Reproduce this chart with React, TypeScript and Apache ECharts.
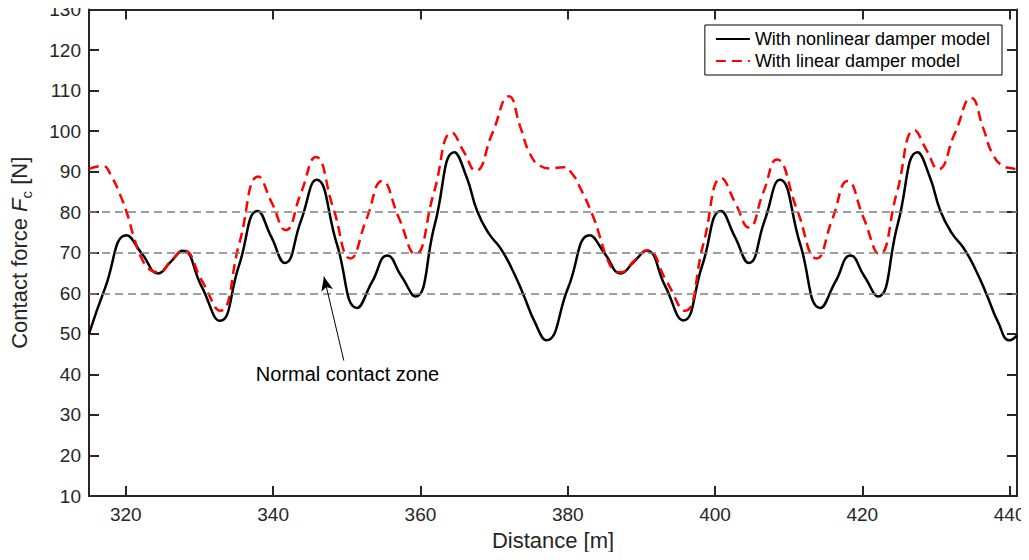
import { useEffect, useRef } from "react";
import * as echarts from "echarts";

// Distance [m] and contact force [N]
const nonlinearDistance = [
  315, 317.2, 320.1, 322.25, 324.4, 326.05, 327.7, 330.25, 332.8, 335.35, 337.9, 339.75, 341.6, 343.75, 345.9,
  348.65, 351.4, 353.45, 355.5, 357.4, 359.3, 361.95, 364.6, 366.3, 367.7, 369.3, 370.8, 372.3, 374.0, 375.5,
  377.1, 380.05, 383.0, 385.1, 387.2, 388.95, 390.7, 393.2, 395.7, 398.25, 400.8, 402.7, 404.6, 406.7, 408.8,
  411.55, 414.3, 416.35, 418.4, 420.25, 422.1, 424.8, 427.5, 429.2, 430.6, 432.2, 433.7, 435.2, 436.9, 438.4,
  440.0, 441,
];
const nonlinearForce = [
  50.0, 61.4, 74.3, 69.6, 64.9, 67.7, 70.5, 61.85, 53.2, 66.75, 80.3, 73.9, 67.5, 77.75, 88.0,
  72.2, 56.4, 62.85, 69.3, 64.25, 59.2, 77.0, 94.8, 88.5, 80.3, 74.7, 71.3, 66.5, 59.6, 53.0,
  48.4, 61.35, 74.3, 69.6, 64.9, 67.7, 70.5, 61.9, 53.3, 66.8, 80.3, 73.9, 67.5, 77.75, 88.0,
  72.2, 56.4, 62.85, 69.3, 64.25, 59.2, 77.0, 94.8, 88.5, 80.3, 74.7, 71.3, 66.5, 59.6, 53.0,
  48.4, 49.6,
];

const linearDistance = [
  315, 316.8, 318.2, 319.2, 320.2, 321.1, 322.2, 323.5, 324.5, 326.1, 327.8, 330.3, 332.8, 335.4, 338.0,
  339.85, 341.7, 343.75, 345.8, 348.15, 350.5, 352.65, 354.8, 357.05, 359.3, 361.8, 364.3, 365.9, 367.5, 369.75,
  372.0, 373.6, 374.9, 376.3, 377.6, 379.4, 380.6, 381.7, 383.5, 384.4, 385.3, 386.4, 387.3, 388.95, 390.8,
  393.35, 395.9, 398.4, 400.9, 402.75, 404.6, 406.5, 408.4, 411.1, 413.8, 415.9, 418.0, 420.15, 422.3, 424.7,
  427.1, 428.7, 430.3, 432.55, 434.8, 436.4, 437.7, 439.1, 440.4, 441,
];
const linearForce = [
  90.7, 91.4, 88.3, 84.4, 79.5, 73.8, 68.4, 65.6, 65.2, 67.9, 70.6, 63.2, 55.7, 72.25, 88.8,
  82.2, 75.6, 84.6, 93.6, 81.1, 68.6, 78.15, 87.7, 78.7, 69.7, 84.65, 99.6, 94.9, 90.2, 99.4,
  108.6, 100.8, 94.3, 91.4, 90.8, 91.1, 89.5, 86.0, 78.7, 73.8, 68.8, 65.6, 65.2, 67.9, 70.6,
  63.2, 55.7, 72.05, 88.4, 82.3, 76.2, 84.6, 93.0, 80.8, 68.6, 78.15, 87.7, 78.7, 69.7, 84.95,
  100.2, 95.4, 90.6, 99.4, 108.2, 100.8, 94.3, 91.4, 90.8, 90.6,
];

const xTickValues = [320, 340, 360, 380, 400, 420, 440];
const referenceLevels = [60, 70, 80];
const seriesNames = ["With nonlinear damper model", "With linear damper model"];
const annotationText = "Normal contact zone";
const annotationTail = [349.6, 43.4];
const annotationHead = [346.9, 64.1];
const annotationTextPos = [350.1, 40.2];

const FONT = "'Liberation Sans', Arial, Helvetica, sans-serif";
const AX = "#262626";

export default function App() {
  const ref = useRef<HTMLDivElement>(null);

  useEffect(() => {
    if (!ref.current) return;
    const chart = echarts.init(ref.current, undefined, { renderer: "svg" });

    const frameLine = { show: true, onZero: false, lineStyle: { color: AX, width: 2 } };
    const frameTick = { show: true, inside: true, length: 10, lineStyle: { color: AX, width: 2 } };

    const option = {
      animation: false,
      textStyle: { fontFamily: FONT },
      grid: { left: 88, right: 12, top: 8, bottom: 64, containLabel: false },
      legend: {
        data: seriesNames,
        orient: "vertical",
        right: 27,
        top: 25,
        backgroundColor: "#fff",
        borderColor: "#000",
        borderWidth: 1,
        borderRadius: 0,
        padding: [5, 12, 5, 10],
        itemGap: 4,
        itemWidth: 34,
        itemHeight: 14,
        itemStyle: { opacity: 0 },
        textStyle: { fontSize: 18, color: "#000", fontFamily: FONT },
      },
      xAxis: [
        {
          type: "value",
          position: "bottom",
          min: 315,
          max: 441,
          axisLine: frameLine,
          axisTick: { ...frameTick, customValues: xTickValues },
          axisLabel: { customValues: xTickValues, fontSize: 19, color: AX, margin: 9, fontFamily: FONT },
          splitLine: { show: false },
          name: "Distance [m]",
          nameLocation: "middle",
          nameGap: 33,
          nameTextStyle: { fontSize: 22, color: AX, fontFamily: FONT },
        },
        {
          type: "value",
          position: "top",
          min: 315,
          max: 441,
          axisLine: frameLine,
          axisTick: { ...frameTick, customValues: xTickValues },
          axisLabel: { show: false },
          splitLine: { show: false },
        },
      ],
      yAxis: [
        {
          type: "value",
          position: "left",
          min: 10,
          max: 130,
          interval: 10,
          axisLine: frameLine,
          axisTick: frameTick,
          axisLabel: { fontSize: 19, color: AX, margin: 8, fontFamily: FONT, padding: [3, 0, 0, 0] },
          splitLine: { show: false },
          name: "{a|Contact force }{i|F}{s|c}{a| [N]}",
          nameLocation: "middle",
          nameGap: 55,
          nameRotate: 90,
          nameTextStyle: {
            color: AX,
            fontFamily: FONT,
            rich: {
              a: { fontSize: 22, color: AX, fontFamily: FONT, lineHeight: 30, verticalAlign: "middle" },
              i: { fontSize: 22, color: AX, fontFamily: FONT, fontStyle: "italic", lineHeight: 30, verticalAlign: "middle" },
              s: { fontSize: 15, color: AX, fontFamily: FONT, lineHeight: 15, verticalAlign: "bottom" },
            },
          },
        },
        {
          type: "value",
          position: "right",
          min: 10,
          max: 130,
          interval: 10,
          axisLine: frameLine,
          axisTick: frameTick,
          axisLabel: { show: false },
          splitLine: { show: false },
        },
      ],
      series: [
        {
          name: seriesNames[0],
          type: "line",
          xAxisIndex: 0,
          yAxisIndex: 0,
          data: nonlinearDistance.map((d, i) => [d, nonlinearForce[i]]),
          smooth: 0.5,
          showSymbol: false,
          symbol: "none",
          color: "#000",
          lineStyle: { color: "#000", width: 2.5 },
          markLine: {
            silent: true,
            symbol: "none",
            label: { show: false },
            lineStyle: { color: "#808080", type: [8, 5], width: 1.5 },
            data: referenceLevels.map((v) => ({ yAxis: v })),
          },
          markPoint: {
            silent: true,
            symbol: "circle",
            symbolSize: 1,
            itemStyle: { color: "rgba(0,0,0,0)" },
            label: {
              show: true,
              position: "inside",
              formatter: annotationText,
              fontSize: 20,
              color: "#000",
              fontFamily: FONT,
            },
            data: [{ coord: annotationTextPos }],
          },
        },
        {
          name: seriesNames[1],
          type: "line",
          xAxisIndex: 0,
          yAxisIndex: 0,
          data: linearDistance.map((d, i) => [d, linearForce[i]]),
          smooth: 0.5,
          showSymbol: false,
          symbol: "none",
          color: "#ff0000",
          lineStyle: { color: "#ff0000", width: 2.5, type: [10, 6] },
          markLine: {
            silent: true,
            label: { show: false },
            lineStyle: { color: "#000", type: "solid", width: 1 },
            data: [
              [
                { coord: annotationTail, symbol: "none" },
                { coord: annotationHead, symbol: "arrow", symbolSize: [9, 14] },
              ],
            ],
          },
        },
      ],
    };

    chart.setOption(option as any);
    return () => chart.dispose();
  }, []);

  return <div ref={ref} style={{ width: 1029, height: 560, margin: -8 }} />;
}
